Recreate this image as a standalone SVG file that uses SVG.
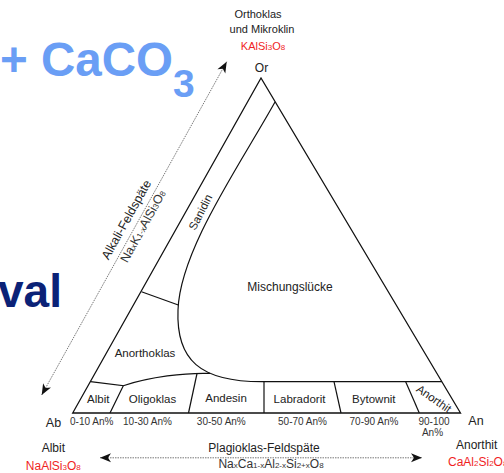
<svg xmlns="http://www.w3.org/2000/svg" width="504" height="473" viewBox="0 0 504 473">
<style>
text{font-family:"Liberation Sans",Arial,sans-serif;fill:#222}
.lbl{font-size:11.5px;text-anchor:middle}
.pct{font-size:10px;text-anchor:middle;fill:#333}
.ttl{font-size:12px;text-anchor:middle}
.red{fill:#f01f1f}
.sub{font-size:8px}
.edge{fill:none;stroke:#111;stroke-width:1.3;stroke-linejoin:miter}
.div{fill:none;stroke:#111;stroke-width:1.2}
.arr{fill:none;stroke:#555;stroke-width:0.8;stroke-dasharray:1.5 1}
</style>
<defs>
<marker id="ah" viewBox="-12 -6 14 12" refX="0" refY="0" markerWidth="14" markerHeight="12" markerUnits="userSpaceOnUse" orient="auto-start-reverse">
<path d="M0,0 L-11,-4.5 L-8,0 L-11,4.5 Z" fill="#111"/>
</marker>
</defs>
<g id="background-text">
<text x="0" y="76" style="font-size:47.5px;font-weight:bold;fill:#6a9ef5">+ CaCO<tspan style="font-size:39px" dy="21">3</tspan></text>
<text x="-2" y="306.7" style="font-size:46px;font-weight:bold;fill:#0b2277">val</text>
</g>
<g id="triangle">
<polygon class="edge" points="261,78 72.7,413 460.5,413"/>
</g>
<g id="boundaries">
<path class="div" d="M275,102 C240,165 180,250 178,310 C176,360 200,381.7 262,381.7 L441.9,381.7"/>
<path class="div" d="M141.5,291.7 L178.3,305"/>
<path class="div" d="M90.5,381.7 L123.3,385.7 L110,413"/>
<path class="div" d="M123.3,385.7 C150,377 185,372.5 210,373.4"/>
<path class="div" d="M197,373.5 L188.5,413"/>
<path class="div" d="M264,381.7 L264,413"/>
<path class="div" d="M334,381.7 L341,413"/>
<path class="div" d="M405.7,381.7 L419.3,413"/>
</g>
<g id="connectors">
<line class="arr" x1="41.7" y1="395" x2="226.7" y2="61.7" marker-start="url(#ah)" marker-end="url(#ah)"/>
<line class="arr" x1="100" y1="457.8" x2="422" y2="457.8" marker-start="url(#ah)" marker-end="url(#ah)"/>
</g>
<g id="node-or">
<text class="ttl" x="258" y="18" style="font-size:11px">Orthoklas</text>
<text class="ttl" x="262" y="33" style="font-size:11px">und Mikroklin</text>
<text class="ttl red" x="263" y="50" style="font-size:11px">KAlSi<tspan class="sub">3</tspan>O<tspan class="sub">8</tspan></text>
<text class="ttl" x="261.5" y="71.7">Or</text>
</g>
<g id="node-ab">
<text class="ttl" x="53.5" y="426.7" style="font-size:12.5px">Ab</text>
<text class="ttl" x="53.3" y="451.7">Albit</text>
<text class="ttl red" x="53.3" y="470">NaAlSi<tspan class="sub">3</tspan>O<tspan class="sub">8</tspan></text>
</g>
<g id="node-an">
<text class="ttl" x="476" y="425" style="font-size:12.5px">An</text>
<text class="ttl" x="476.7" y="449.3">Anorthit</text>
<text class="red" x="448" y="466" style="font-size:12px">CaAl<tspan class="sub">2</tspan>Si<tspan class="sub">2</tspan>O<tspan class="sub">8</tspan></text>
</g>
<g id="node-alkali">
<text class="ttl" transform="translate(130,221.7) rotate(-61)" style="font-size:12.5px">Alkali-Feldspäte</text>
<text class="ttl" transform="translate(146.7,228.3) rotate(-61)" style="font-size:12.5px;fill:#333">Na<tspan class="sub">x</tspan>K<tspan class="sub">1-x</tspan>AlSi<tspan class="sub">3</tspan>O<tspan class="sub">8</tspan></text>
</g>
<g id="node-plagioklas">
<text class="ttl" x="264" y="452">Plagioklas-Feldspäte</text>
<text class="ttl" x="271" y="468" style="fill:#333">Na<tspan class="sub">x</tspan>Ca<tspan class="sub">1-x</tspan>Al<tspan class="sub">2-x</tspan>Si<tspan class="sub">2+x</tspan>O<tspan class="sub">8</tspan></text>
</g>
<g id="node-sanidin"><text class="lbl" transform="translate(204,214) rotate(-63)">Sanidin</text></g>
<g id="node-mischungsluecke"><text class="ttl" x="290" y="291">Mischungslücke</text></g>
<g id="node-anorthoklas"><text class="lbl" x="145" y="357.3">Anorthoklas</text></g>
<g id="node-albit"><text class="lbl" x="98.3" y="403.3">Albit</text></g>
<g id="node-oligoklas"><text class="lbl" x="152.5" y="403">Oligoklas</text></g>
<g id="node-andesin"><text class="lbl" x="226" y="401.7">Andesin</text></g>
<g id="node-labradorit"><text class="lbl" x="299.5" y="402.7">Labradorit</text></g>
<g id="node-bytownit"><text class="lbl" x="373.8" y="402.7">Bytownit</text></g>
<g id="node-anorthit-field"><text class="lbl" transform="translate(431.7,402) rotate(35)">Anorthit</text></g>
<g id="percentages">
<text class="pct" x="91.7" y="425">0-10 An%</text>
<text class="pct" x="147.5" y="425">10-30 An%</text>
<text class="pct" x="221.3" y="425">30-50 An%</text>
<text class="pct" x="302.5" y="424.5">50-70 An%</text>
<text class="pct" x="374" y="424.5">70-90 An%</text>
<text class="pct" x="434" y="424.5">90-100</text>
<text class="pct" x="432.5" y="436">An%</text>
</g>
</svg>
